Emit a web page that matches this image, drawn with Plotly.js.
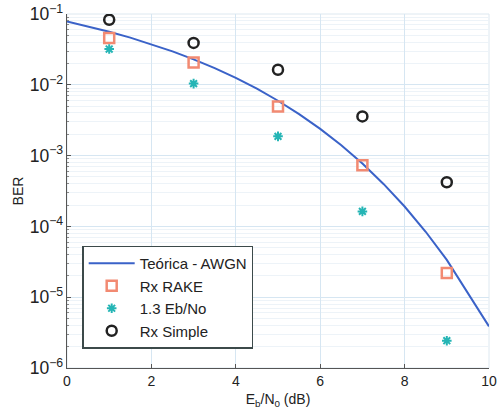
<!DOCTYPE html>
<html><head><meta charset="utf-8">
<script src="https://cdn.plot.ly/plotly-3.0.1.min.js"></script>
<style>html,body{margin:0;padding:0;background:#fff}#c{width:498px;height:415px}</style>
</head><body><div id="c"></div>
<script>
const ebnoTheory = [0,0.5,1,1.5,2,2.5,3,3.5,4,4.5,5,5.5,6,6.5,7,7.5,8,8.5,9,10];
const berTheory = [7.865e-2,6.71e-2,5.628e-2,4.64e-2,3.751e-2,2.97e-2,2.288e-2,1.72e-2,1.250e-2,8.8e-3,5.954e-3,3.86e-3,2.388e-3,1.40e-3,7.727e-4,3.98e-4,1.909e-4,8.4e-5,3.363e-5,3.872e-6];
const ebnoSim = [1,3,5,7,9];
const berRake = [4.6e-2,2.07e-2,4.95e-3,7.3e-4,2.2e-5];
const ber13 = [3.2e-2,1.04e-2,1.87e-3,1.63e-4,2.43e-6];
const berSimple = [8.3e-2,3.9e-2,1.63e-2,3.58e-3,4.2e-4];
const seriesNames = ['Teórica - AWGN','Rx RAKE','1.3 Eb/No','Rx Simple'];

const fam = 'Liberation Sans, Arial, sans-serif';
const traces = [
  {x:ebnoTheory, y:berTheory, name:seriesNames[0], mode:'lines', line:{color:'#3a62c8', width:2}},
  {x:ebnoSim, y:berRake, name:seriesNames[1], mode:'markers', marker:{symbol:'square-open', size:10, color:'#f28a72', line:{width:2.5, color:'#f28a72'}}},
  {x:ebnoSim, y:ber13, name:seriesNames[2], mode:'markers', marker:{symbol:'asterisk-open', size:8, color:'#25b5b5', line:{width:2, color:'#25b5b5'}}},
  {x:ebnoSim, y:berSimple, name:seriesNames[3], mode:'markers', marker:{symbol:'circle-open', size:10, color:'#222', line:{width:2.5, color:'#222'}}}
];
const layout = {
  width:498, height:415,
  margin:{l:67, r:9, t:14, b:47},
  paper_bgcolor:'#fff', plot_bgcolor:'#fff',
  font:{family:fam, size:13, color:'#222'},
  showlegend:true,
  legend:{x:0.036, y:0.346, xanchor:'left', yanchor:'top', bordercolor:'#3c4a4a', borderwidth:1.5, bgcolor:'#fff', font:{family:fam, size:15, color:'#222'}, tracegroupgap:0, itemwidth:46},
  xaxis:{range:[0,10], dtick:2, tick0:0, showgrid:true, gridcolor:'#d6e6f2', gridwidth:1, zeroline:false,
    showline:true, linecolor:'#555', linewidth:1, mirror:false, ticks:'inside', ticklen:4, tickcolor:'#555',
    tickfont:{family:fam, size:14, color:'#222'},
    title:{text:'E<sub>b</sub>/N<sub>0</sub> (dB)', font:{family:fam, size:14, color:'#222'}, standoff:6}},
  yaxis:{type:'log', range:[-6,-1], dtick:1, exponentformat:'power', showgrid:true, gridcolor:'#d6e6f2', gridwidth:1, zeroline:false,
    showline:true, linecolor:'#555', linewidth:1, ticks:'inside', ticklen:4, tickcolor:'#555',
    minor:{dtick:'D1', showgrid:true, gridcolor:'#edf3f8', ticks:'inside', ticklen:2, tickcolor:'#888'},
    tickfont:{family:fam, size:14, color:'#222'},
    title:{text:'BER', font:{family:fam, size:14, color:'#222'}, standoff:2}},
  shapes:[{type:'rect', xref:'paper', yref:'paper', x0:0, x1:1, y0:0, y1:1, line:{color:'#dde8f0', width:1}, layer:'below'}]
};
Plotly.newPlot('c', traces, layout, {staticPlot:true, displayModeBar:false});
</script></body></html>
